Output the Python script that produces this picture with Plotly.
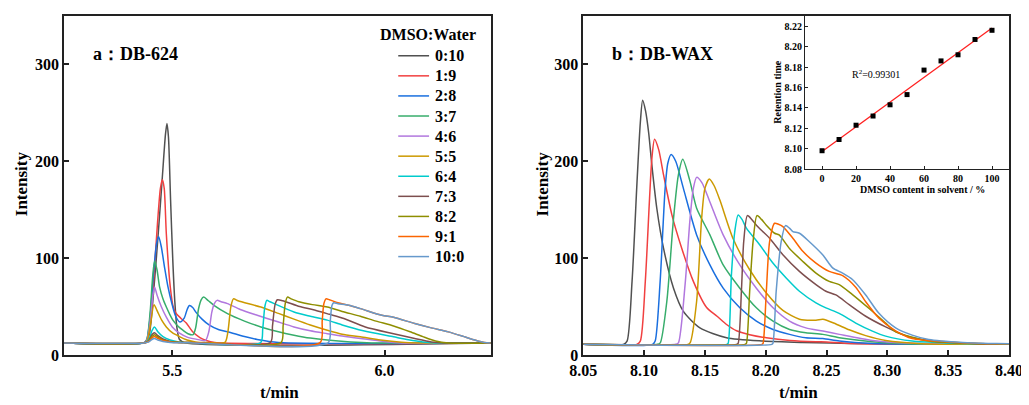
import plotly.graph_objects as go
import numpy as np

ratios = ["0:10", "1:9", "2:8", "3:7", "4:6", "5:5", "6:4", "7:3", "8:2", "9:1", "10:0"]
colors = ["#515151", "#F14040", "#1A6FDF", "#37AD6B", "#B177DE", "#CC9900",
          "#00CBCC", "#7D4E4E", "#8E8E00", "#FB6501", "#6699CC"]

# ---- panel a: DB-624 (time in min, intensity) ----
db624_t = [
    [5.245, 5.43, 5.44, 5.447, 5.456, 5.466, 5.476, 5.484, 5.4875, 5.491, 5.496, 5.501, 5.506, 5.511, 5.517, 5.53, 6.25],
    [5.245, 5.432, 5.44, 5.447, 5.455, 5.465, 5.472, 5.4766, 5.481, 5.486, 5.4953, 5.502, 5.509, 5.52, 5.533, 5.548, 5.565, 5.58, 5.6, 6.25],
    [5.245, 5.433, 5.44, 5.448, 5.456, 5.463, 5.468, 5.474, 5.482, 5.49, 5.498, 5.508, 5.518, 5.528, 5.535, 5.5405, 5.548, 5.556, 5.57, 5.5874, 5.61, 5.63, 5.67, 5.70, 5.75, 6.25],
    [5.245, 5.433, 5.44, 5.448, 5.454, 5.4585, 5.464, 5.4702, 5.478, 5.486, 5.494, 5.5014, 5.513, 5.525, 5.537, 5.549, 5.555, 5.562, 5.568, 5.574, 5.585, 5.599, 5.63, 5.67, 5.7086, 5.75, 5.7866, 5.825, 5.865, 5.92, 5.97, 6.25],
    [5.245, 5.433, 5.44, 5.448, 5.4545, 5.4585, 5.464, 5.474, 5.486, 5.50, 5.517, 5.535, 5.556, 5.578, 5.586, 5.593, 5.599, 5.6055, 5.615, 5.63, 5.66, 5.70, 5.7466, 5.7866, 5.825, 5.865, 5.90, 5.943, 5.99, 6.04, 6.25],
    [5.245, 5.433, 5.44, 5.448, 5.457, 5.465, 5.475, 5.486, 5.50, 5.517, 5.535, 5.555, 5.58, 5.624, 5.631, 5.638, 5.644, 5.655, 5.7086, 5.75, 5.7866, 5.825, 5.865, 5.90, 5.943, 5.99, 6.04, 6.08, 6.25],
    [5.245, 5.435, 5.445, 5.452, 5.458, 5.466, 5.478, 5.495, 5.515, 5.54, 5.708, 5.713, 5.718, 5.7226, 5.73, 5.7866, 5.825, 5.865, 5.90, 5.95, 6.021, 6.056, 6.09, 6.12, 6.25],
    [5.245, 5.435, 5.445, 5.452, 5.458, 5.466, 5.478, 5.495, 5.515, 5.54, 5.731, 5.736, 5.742, 5.7475, 5.76, 5.80, 5.83, 5.87, 5.904, 5.9546, 6.021, 6.071, 6.11, 6.14, 6.25],
    [5.245, 5.435, 5.445, 5.452, 5.458, 5.466, 5.478, 5.495, 5.515, 5.54, 5.756, 5.761, 5.766, 5.771, 5.78, 5.798, 5.83, 5.865, 5.90, 5.943, 5.98, 6.021, 6.06, 6.09, 6.12, 6.15, 6.25],
    [5.245, 5.435, 5.445, 5.452, 5.458, 5.466, 5.478, 5.495, 5.515, 5.54, 5.848, 5.853, 5.857, 5.862, 5.87, 5.89, 5.9155, 5.943, 5.9935, 6.021, 6.071, 6.11, 6.15, 6.19, 6.2125, 6.235, 6.25],
    [5.245, 5.435, 5.445, 5.452, 5.458, 5.466, 5.478, 5.495, 5.515, 5.54, 5.867, 5.872, 5.876, 5.88, 5.89, 5.9155, 5.943, 5.9935, 6.021, 6.071, 6.11, 6.15, 6.19, 6.2125, 6.235, 6.25],
]
db624_i = [
    [12.5, 12.5, 14, 24, 65, 120, 180, 228, 239, 225, 160, 100, 55, 28, 16, 12.5, 12.5],
    [12.5, 12.5, 15, 28, 70, 135, 172, 181, 172, 125, 70, 50, 43, 38, 33, 24, 18, 15, 13, 12.5],
    [12.5, 12.5, 16, 40, 85, 115, 122, 112, 90, 70, 55, 40, 34, 38, 47, 51, 49, 44, 37, 30.8, 26, 24, 19, 16, 13, 12.5],
    [12.5, 12.5, 16, 45, 82, 97, 88, 70, 58, 49.5, 42, 36, 30, 25.6, 22, 21, 28, 48, 57, 59.8, 56, 51, 42.7, 35, 29, 24, 20.5, 17.5, 15.4, 13.5, 12.5, 12.5],
    [12.5, 12.5, 15, 35, 62, 70, 62, 50, 39, 29, 22.5, 18.5, 16.4, 15, 24, 44, 53, 56.4, 55, 53, 47, 41, 34.5, 29, 25, 22, 19.5, 17, 14.5, 12.5, 12.5],
    [12.5, 12.5, 14, 30, 52, 45, 36, 29, 23, 19, 15.5, 13.5, 12.8, 13, 24, 50, 58, 56, 49.5, 43, 37, 31, 25.6, 21.5, 18.8, 15.5, 13.2, 12.5, 12.5],
    [12.5, 12.5, 16, 25, 29, 24, 19, 15.5, 13.5, 12.8, 12.8, 27, 50, 56.4, 55, 44.4, 40, 36, 31, 25, 18.8, 15.8, 13.5, 12.5, 12.5],
    [12.5, 12.5, 15, 21, 23, 20, 16.5, 14, 13, 12.8, 12.8, 30, 52, 57, 56, 50, 47, 42, 37.6, 29, 22, 17, 13.5, 12.5, 12.5],
    [12.5, 12.5, 14.5, 19, 21, 18.5, 15.5, 13.5, 13, 12.8, 12.8, 30, 53, 59.8, 58, 55, 52, 49.5, 45, 40, 35, 30, 24, 19, 14.5, 12.5, 12.5],
    [12.5, 12.5, 14, 17.5, 19, 17, 15, 13.5, 12.8, 12.8, 12.8, 35, 53, 58, 57, 54, 51.3, 47.9, 41, 39, 32.5, 28, 23.9, 18.5, 15.4, 12.8, 12.5],
    [12.5, 12.5, 13.5, 16, 17, 15.5, 14, 13, 12.7, 12.7, 12.7, 35, 51, 54, 53, 51.3, 47.9, 41, 39, 32.5, 28, 23.9, 18.5, 15.4, 12.8, 12.5],
]

# ---- panel b: DB-WAX ----
dbwax_t = [
    [8.05, 8.083, 8.086, 8.0901, 8.0942, 8.0969, 8.0988, 8.1012, 8.1037, 8.1064, 8.1105, 8.116, 8.1242, 8.1323, 8.1459, 8.1678, 8.1978, 8.23, 8.27, 8.40],
    [8.05, 8.094, 8.0969, 8.101, 8.1045, 8.1064, 8.1086, 8.112, 8.116, 8.1228, 8.131, 8.1405, 8.1514, 8.16, 8.1678, 8.176, 8.1868, 8.2005, 8.22, 8.2413, 8.25, 8.27, 8.40],
    [8.05, 8.107, 8.1091, 8.1132, 8.1173, 8.1195, 8.1222, 8.126, 8.1323, 8.1432, 8.1541, 8.165, 8.1787, 8.1923, 8.206, 8.2196, 8.233, 8.247, 8.2605, 8.2877, 8.40],
    [8.05, 8.111, 8.1133, 8.1187, 8.1242, 8.1282, 8.1318, 8.1378, 8.1432, 8.1541, 8.165, 8.1787, 8.1923, 8.206, 8.2196, 8.233, 8.247, 8.2605, 8.2877, 8.315, 8.40],
    [8.05, 8.126, 8.1282, 8.1337, 8.1378, 8.1405, 8.1432, 8.1475, 8.1541, 8.165, 8.1787, 8.1923, 8.206, 8.2196, 8.233, 8.247, 8.2605, 8.2877, 8.315, 8.40],
    [8.05, 8.136, 8.1378, 8.1432, 8.1473, 8.15, 8.1536, 8.1575, 8.1623, 8.1732, 8.1868, 8.2005, 8.2141, 8.2277, 8.2413, 8.247, 8.2577, 8.2686, 8.2822, 8.2986, 8.3286, 8.40],
    [8.05, 8.168, 8.1691, 8.1718, 8.1745, 8.1773, 8.1805, 8.1841, 8.195, 8.2059, 8.2168, 8.2277, 8.2413, 8.2495, 8.2604, 8.274, 8.2877, 8.2986, 8.3204, 8.3477, 8.40],
    [8.05, 8.176, 8.1773, 8.18, 8.1819, 8.1849, 8.1885, 8.1923, 8.2032, 8.2141, 8.2277, 8.2413, 8.2495, 8.2577, 8.2686, 8.2822, 8.2986, 8.315, 8.34, 8.37, 8.40],
    [8.05, 8.183, 8.1841, 8.1868, 8.1896, 8.1928, 8.1965, 8.2005, 8.2073, 8.211, 8.2195, 8.2305, 8.2413, 8.2522, 8.2604, 8.2713, 8.285, 8.2986, 8.3068, 8.334, 8.362, 8.40],
    [8.05, 8.197, 8.1978, 8.2005, 8.2032, 8.2073, 8.2105, 8.2141, 8.2223, 8.2305, 8.2413, 8.2522, 8.2632, 8.274, 8.2822, 8.2931, 8.3068, 8.3204, 8.3477, 8.375, 8.40],
    [8.05, 8.205, 8.2059, 8.2086, 8.2127, 8.2162, 8.2195, 8.2223, 8.2277, 8.2359, 8.2468, 8.255, 8.2632, 8.2713, 8.2822, 8.2931, 8.3068, 8.3204, 8.334, 8.362, 8.39, 8.40],
]
dbwax_i = [
    [11, 11, 14.4, 76, 179, 240, 263, 252, 230, 196, 151, 110, 69, 45, 28, 17.8, 14.4, 13, 12, 11],
    [11, 11, 14.4, 76, 162, 203, 222.7, 212, 186, 145, 110, 76, 49, 40, 31.5, 25, 21, 17.8, 15, 13.7, 13.5, 12, 11],
    [11, 11, 14.4, 76, 172, 198, 207, 200, 172, 124, 93, 69, 48.7, 35, 26.4, 21.3, 17.8, 17, 14.4, 12, 11],
    [11, 11, 12.5, 55.5, 141, 186, 202, 179, 151.5, 124, 93, 69, 48.7, 35, 26.4, 23, 21.3, 17.8, 13.7, 11.7, 11],
    [11, 11, 12.5, 72.7, 141, 172, 183.4, 178, 158, 124, 93, 69, 48.7, 35, 28, 24.7, 21.3, 15, 12.3, 11],
    [11, 11, 12.5, 55.5, 141, 172, 181.7, 175, 160, 120, 88, 64, 46, 37, 36, 37, 32, 26, 20, 15, 11.7, 11],
    [11, 11, 12, 83, 127, 144.6, 140, 131, 113.8, 94.9, 79.5, 65.8, 53.8, 48.6, 43, 33, 24.7, 19.5, 14.4, 12.5, 11],
    [11, 11, 12, 65.8, 117, 143.9, 140, 134, 120.6, 103.5, 86.3, 72.7, 65.8, 62, 52, 40, 29, 20, 14, 12, 11],
    [11, 11, 12, 65.8, 117, 143.9, 140, 134, 125.7, 124, 110, 96.6, 84.6, 76, 72.7, 62.4, 48, 33, 24, 14.4, 12.5, 11],
    [11, 11, 12, 65.8, 117, 136, 135, 132.6, 120.6, 107, 94.9, 86.3, 82, 70, 55, 38, 25, 17, 13.7, 12, 11.5],
    [11, 11, 12, 65.8, 117, 133.6, 131, 127.4, 125.7, 117, 103.5, 90, 84.6, 78, 62, 43, 28, 20.5, 16, 13, 11.8, 11.5],
]

# ---- inset: retention time vs DMSO content ----
dmso_pct = [0, 10, 20, 30, 40, 50, 60, 70, 80, 90, 100]
ret_time = [8.098, 8.109, 8.123, 8.132, 8.143, 8.153, 8.177, 8.186, 8.192, 8.207, 8.216]

FONT = "Liberation Serif"
AX = "#222222"

fig = go.Figure()

for k in range(len(ratios)):
    fig.add_trace(go.Scatter(
        x=db624_t[k], y=db624_i[k], mode="lines", name=ratios[k],
        line=dict(color=colors[k], width=1.5, shape="spline", smoothing=0.7),
        xaxis="x", yaxis="y", showlegend=False))
for k in range(len(ratios)):
    fig.add_trace(go.Scatter(
        x=dbwax_t[k], y=dbwax_i[k], mode="lines", name=ratios[k],
        line=dict(color=colors[k], width=1.5, shape="spline", smoothing=0.7),
        xaxis="x2", yaxis="y2", showlegend=False))

# inset scatter + linear fit
fit = np.polyfit(dmso_pct, ret_time, 1)
fit_x = [dmso_pct[0], dmso_pct[-1]]
fit_y = [fit[0] * v + fit[1] for v in fit_x]
fig.add_trace(go.Scatter(x=fit_x, y=fit_y, mode="lines", line=dict(color="#FF2020", width=1.3),
                         xaxis="x3", yaxis="y3", showlegend=False))
fig.add_trace(go.Scatter(x=dmso_pct, y=ret_time, mode="markers",
                         marker=dict(symbol="square", size=5, color="black"),
                         xaxis="x3", yaxis="y3", showlegend=False))

tickfont = dict(family=FONT, size=16, color="black", weight="bold")
common = dict(showline=True, linecolor=AX, linewidth=1.5, mirror=True, ticks="inside",
              ticklen=5, tickwidth=1.5, tickcolor=AX, showgrid=False, zeroline=False,
              tickfont=tickfont)
inset_common = dict(showline=True, linecolor=AX, linewidth=1.2, mirror=True,
                    ticks="inside", ticklen=3, tickwidth=1, tickcolor=AX, showgrid=False,
                    zeroline=False, tickfont=dict(family=FONT, size=10, color="black", weight="bold"))

# the page body has an 8 px default margin; size the figure so the plot areas land where the reference has them
OFF = 8
fig.update_layout(
    width=1029 - OFF, height=405 - OFF,
    margin=dict(l=64 - OFF, r=15, t=14 - OFF, b=50),
    paper_bgcolor="white", plot_bgcolor="white",
    font=dict(family=FONT, color="black"),
    showlegend=False,
    xaxis=dict(domain=[0, 0.4516], range=[5.245, 6.25], tickvals=[5.5, 6.0],
               ticktext=["5.5", "6.0"], anchor="y", **common),
    yaxis=dict(domain=[0, 1], range=[0, 350], tickvals=[0, 100, 200, 300], anchor="x", **common),
    xaxis2=dict(domain=[0.5495, 1.0], range=[8.05, 8.40],
                tickvals=[8.05, 8.10, 8.15, 8.20, 8.25, 8.30, 8.35, 8.40], tickformat=".2f",
                anchor="y2", **common),
    yaxis2=dict(domain=[0, 1], range=[0, 350], tickvals=[0, 100, 200, 300], anchor="x2", **common),
    xaxis3=dict(domain=[0.7842, 1.0], range=[-10, 110], tickvals=[0, 20, 40, 60, 80, 100],
                anchor="y3", **inset_common),
    yaxis3=dict(domain=[0.5484, 1.0], range=[8.08, 8.23],
                tickvals=[8.08, 8.10, 8.12, 8.14, 8.16, 8.18, 8.20, 8.22], tickformat=".2f",
                anchor="x3", **inset_common),
)

def ann(text, x, y, size, bold=True, angle=0, xanchor="center", yanchor="middle", xref="paper", yref="paper"):
    fig.add_annotation(text=("<b>%s</b>" % text) if bold else text, x=x, y=y, xref=xref, yref=yref,
                       showarrow=False, textangle=angle, xanchor=xanchor, yanchor=yanchor,
                       font=dict(family=FONT, size=size, color="black"))

W, H = 950.0, 341.0
def px(x): return (x - 64) / W
def py(y): return (355 - y) / H

# legend (key for the DMSO:Water ratios), laid out like the reference
ann("DMSO:Water", px(430), py(33), 16)
for k in range(len(ratios)):
    row_y = py(54 + 20.2 * k)
    fig.add_shape(type="line", xref="paper", yref="paper", x0=px(400), x1=px(431),
                  y0=row_y, y1=row_y, line=dict(color=colors[k], width=1.5))
    ann(ratios[k], px(435), row_y, 16, xanchor="left")

ann("a：DB-624", px(91), py(52), 18, xanchor="left")
ann("b：DB-WAX", px(613), py(52), 18, xanchor="left")
ann("Intensity", px(21), py(183), 17, angle=-90)
ann("Intensity", px(545), py(183), 17, angle=-90)
ann("t/min", px(281), py(393), 17)
ann("t/min", px(802), py(393), 17)
ann("DMSO content in solvent / %", px(927), py(189), 10)
ann("Retention time", px(781), py(90), 10, angle=-90)
ann("R<sup>2</sup>=0.99301", 32, 8.173, 10, bold=False, xref="x3", yref="y3")

fig.write_html("out.html")
